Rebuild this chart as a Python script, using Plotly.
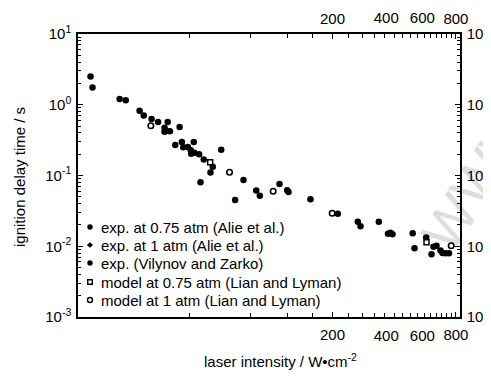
import plotly.graph_objects as go

# ---------------- data ----------------
vz_x = [13.2, 13.5, 18.3, 19.6, 22.9, 24.0, 26.2, 28.2, 31.4]
vz_y = [2.51, 1.76, 1.21, 1.16, 0.821, 0.705, 0.629, 0.571, 0.571]

exp075_x = [30.3, 31.0, 32.2, 35.9, 36.8, 39.4, 42.1, 44.7, 52.1, 57.3, 73.6, 84.9,
            110.3, 122.0, 156.1, 265.7, 336.4, 383.6, 492.2, 572.8, 643.0, 687.8, 740.0]
exp075_y = [0.474, 0.430, 0.421, 0.485, 0.298, 0.253, 0.298, 0.199, 0.133, 0.232, 0.0864, 0.0614,
            0.0758, 0.0585, 0.0461, 0.0222, 0.0222, 0.01554, 0.0153, 0.0133, 0.01018, 0.00803, 0.00795]

exp1_x = [30.3, 34.2, 37.4, 40.7, 40.9, 42.4, 47.1, 50.8, 45.4, 67.0, 88.4, 120.2,
          212.2, 273.9, 372.9, 392.3, 502.3, 608.0, 621.7, 672.6, 711.5]
exp1_y = [0.416, 0.270, 0.250, 0.227, 0.203, 0.210, 0.169, 0.110, 0.0801, 0.0451, 0.0518, 0.0618,
          0.0288, 0.0191, 0.01504, 0.01476, 0.00939, 0.00772, 0.00982, 0.0087, 0.00795]

model075_x = [50.6, 574.9]
model075_y = [0.154, 0.0114]

model1_x = [26.0, 62.9, 102.7, 199.3, 758.6]
model1_y = [0.506, 0.111, 0.060, 0.0292, 0.01015]

legend_labels = [
    "exp. at 0.75 atm (Alie et al.)",
    "exp. at 1 atm (Alie et al.)",
    "exp. (Vilynov and Zarko)",
    "model at 0.75 atm (Lian and Lyman)",
    "model at 1 atm (Lian and Lyman)",
]

x_ticks_a = [200, 800]          # labels drawn at the tick
x_ticks_b = [400, 600]          # labels drawn slightly left of the tick (as in the original)
x_ticklabels_a = ["200", "800"]
x_ticklabels_b = ["400", "600"]
x_minor = [v for v in range(40, 801, 40) if v not in x_ticks_a]
y_ticks = [0.001, 0.01, 0.1, 1, 10]
y_ticklabels = ["10<sup>-3</sup>", "10<sup>-2</sup>", "10<sup>-1</sup>", "10<sup>0</sup>", "10<sup>1</sup>"]
y_minor = [m * 10 ** e for e in range(-3, 1) for m in range(2, 10)]

# ---------------- layout geometry ----------------
# the page has an 8px body margin, so the figure is drawn from (8, 8) of the window
OFF = 8
W, H = 491 - OFF, 377 - OFF
L, T, PW, PH = 78 - OFF, 34 - OFF, 382, 283
XR = [1.0595, 2.9229]
YR = [-3, 1]
FONT = "Liberation Sans, Arial, sans-serif"


def pxx(x):  # window pixel -> paper x
    return (x - OFF - L) / PW


def pxy(y):  # window pixel -> paper y
    return (T + PH - (y - OFF)) / PH


fig = go.Figure()

fill_marker = dict(symbol="circle", color="black", size=6.5, line=dict(width=0))
fig.add_trace(go.Scatter(x=exp075_x, y=exp075_y, mode="markers", marker=fill_marker,
                         name=legend_labels[0], showlegend=False))
fig.add_trace(go.Scatter(x=exp1_x, y=exp1_y, mode="markers", marker=fill_marker,
                         name=legend_labels[1], showlegend=False))
fig.add_trace(go.Scatter(x=vz_x, y=vz_y, mode="markers", marker=fill_marker,
                         name=legend_labels[2], showlegend=False))
fig.add_trace(go.Scatter(x=model075_x, y=model075_y, mode="markers",
                         marker=dict(symbol="square", color="white", size=5,
                                     line=dict(color="black", width=1.5)),
                         name=legend_labels[3], showlegend=False))
fig.add_trace(go.Scatter(x=model1_x, y=model1_y, mode="markers",
                         marker=dict(symbol="circle", color="white", size=5.5,
                                     line=dict(color="black", width=1.6)),
                         name=legend_labels[4], showlegend=False))
# invisible traces so that the mirrored / label-only axes get drawn
for xa, ya in (("x2", "y2"), ("x3", "y"), ("x4", "y2")):
    fig.add_trace(go.Scatter(x=model1_x, y=model1_y, xaxis=xa, yaxis=ya, mode="markers",
                             marker=dict(opacity=0), hoverinfo="skip", showlegend=False))

axis_common = dict(
    showline=True, linecolor="black", linewidth=1.5,
    ticks="inside", ticklen=5, tickwidth=1, tickcolor="black",
    showgrid=False, zeroline=False, automargin=False,
    tickfont=dict(family=FONT, size=15, color="black"),
)
label_only = dict(
    showline=False, ticks="", showgrid=False, zeroline=False, automargin=False,
    tickfont=dict(family=FONT, size=15, color="black"),
)

xminor = dict(tickvals=x_minor, ticks="inside", ticklen=4, tickcolor="black",
              tickwidth=1, showgrid=False)
yminor = dict(tickvals=y_minor, ticks="inside", ticklen=3, tickcolor="black",
              tickwidth=1, showgrid=False)

fig.update_layout(
    width=W, height=H,
    margin=dict(l=L, r=W - L - PW, t=T, b=H - T - PH, pad=0, autoexpand=False),
    paper_bgcolor="white", plot_bgcolor="white",
    showlegend=False,
    font=dict(family=FONT, size=15, color="black"),
    xaxis=dict(type="log", range=XR, tickmode="array", tickvals=x_ticks_a, ticktext=x_ticklabels_a,
               tickangle=0, minor=xminor, ticklabelstandoff=3, **axis_common),
    xaxis2=dict(type="log", range=XR, overlaying="x", side="top", anchor="y",
                tickmode="array", tickvals=x_ticks_a, ticktext=x_ticklabels_a, tickangle=0,
                minor=xminor, ticklabelstandoff=2, **axis_common),
    xaxis3=dict(type="log", range=XR, overlaying="x", side="bottom", anchor="y",
                tickmode="array", tickvals=x_ticks_b, ticktext=x_ticklabels_b, tickangle=0,
                ticklabelstandoff=8, ticklabelshift=-8, **label_only),
    xaxis4=dict(type="log", range=XR, overlaying="x", side="top", anchor="y",
                tickmode="array", tickvals=x_ticks_b, ticktext=x_ticklabels_b, tickangle=0,
                ticklabelstandoff=7, ticklabelshift=-8, **label_only),
    yaxis=dict(type="log", range=YR, tickmode="array", tickvals=y_ticks, ticktext=y_ticklabels,
               minor=yminor, ticklabelstandoff=2, **axis_common),
    yaxis2=dict(type="log", range=YR, overlaying="y", side="right", anchor="x",
                tickmode="array", tickvals=y_ticks, ticktext=y_ticklabels,
                minor=yminor, ticklabelstandoff=2, **axis_common),
)

annotations = []
# axis titles
annotations.append(dict(text="laser intensity / W\u2022cm<sup>-2</sup>", xref="paper", yref="paper",
                        x=pxx(280), y=pxy(360), xanchor="center", yanchor="middle",
                        showarrow=False, font=dict(family=FONT, size=15, color="black")))
annotations.append(dict(text="ignition delay time / s", xref="paper", yref="paper",
                        x=pxx(19), y=pxy(177), xanchor="center", yanchor="middle", textangle=-90,
                        showarrow=False, font=dict(family=FONT, size=15, color="black")))
# watermark
annotations.append(dict(text="WWW", xref="paper", yref="paper", x=pxx(478), y=pxy(178),
                        xanchor="center", yanchor="middle", textangle=-57, showarrow=False,
                        font=dict(family=FONT, size=56, color="rgba(0,0,0,0.13)")))

# legend (manual, to match the tight symbol/text spacing of the reference)
row_y = [227, 245, 263, 282, 300]
for lab, ry in zip(legend_labels, row_y):
    annotations.append(dict(text=lab, xref="paper", yref="paper", x=pxx(99), y=pxy(ry),
                            xanchor="left", yanchor="middle", showarrow=False,
                            font=dict(family=FONT, size=15, color="black")))

shapes = []
sx = pxx(90)
for i, ry in enumerate(row_y):
    sy = pxy(ry)
    base = dict(xref="paper", yref="paper", xsizemode="pixel", ysizemode="pixel",
                xanchor=sx, yanchor=sy)
    if i in (0, 2):
        shapes.append(dict(type="circle", x0=-2.7, x1=2.7, y0=-2.7, y1=2.7,
                           fillcolor="black", line=dict(width=0), **base))
    elif i == 1:
        shapes.append(dict(type="path", path="M -3.2 0 L 0 -2.8 L 3 0 L 0 2.8 Z",
                           fillcolor="black", line=dict(width=0), **base))
    elif i == 3:
        shapes.append(dict(type="rect", x0=-2.3, x1=2.3, y0=-2.3, y1=2.3,
                           fillcolor="white", line=dict(color="black", width=1.4), **base))
    else:
        shapes.append(dict(type="circle", x0=-2.5, x1=2.5, y0=-2.5, y1=2.5,
                           fillcolor="white", line=dict(color="black", width=1.4), **base))

fig.update_layout(annotations=annotations, shapes=shapes)

fig.write_html("out.html")
